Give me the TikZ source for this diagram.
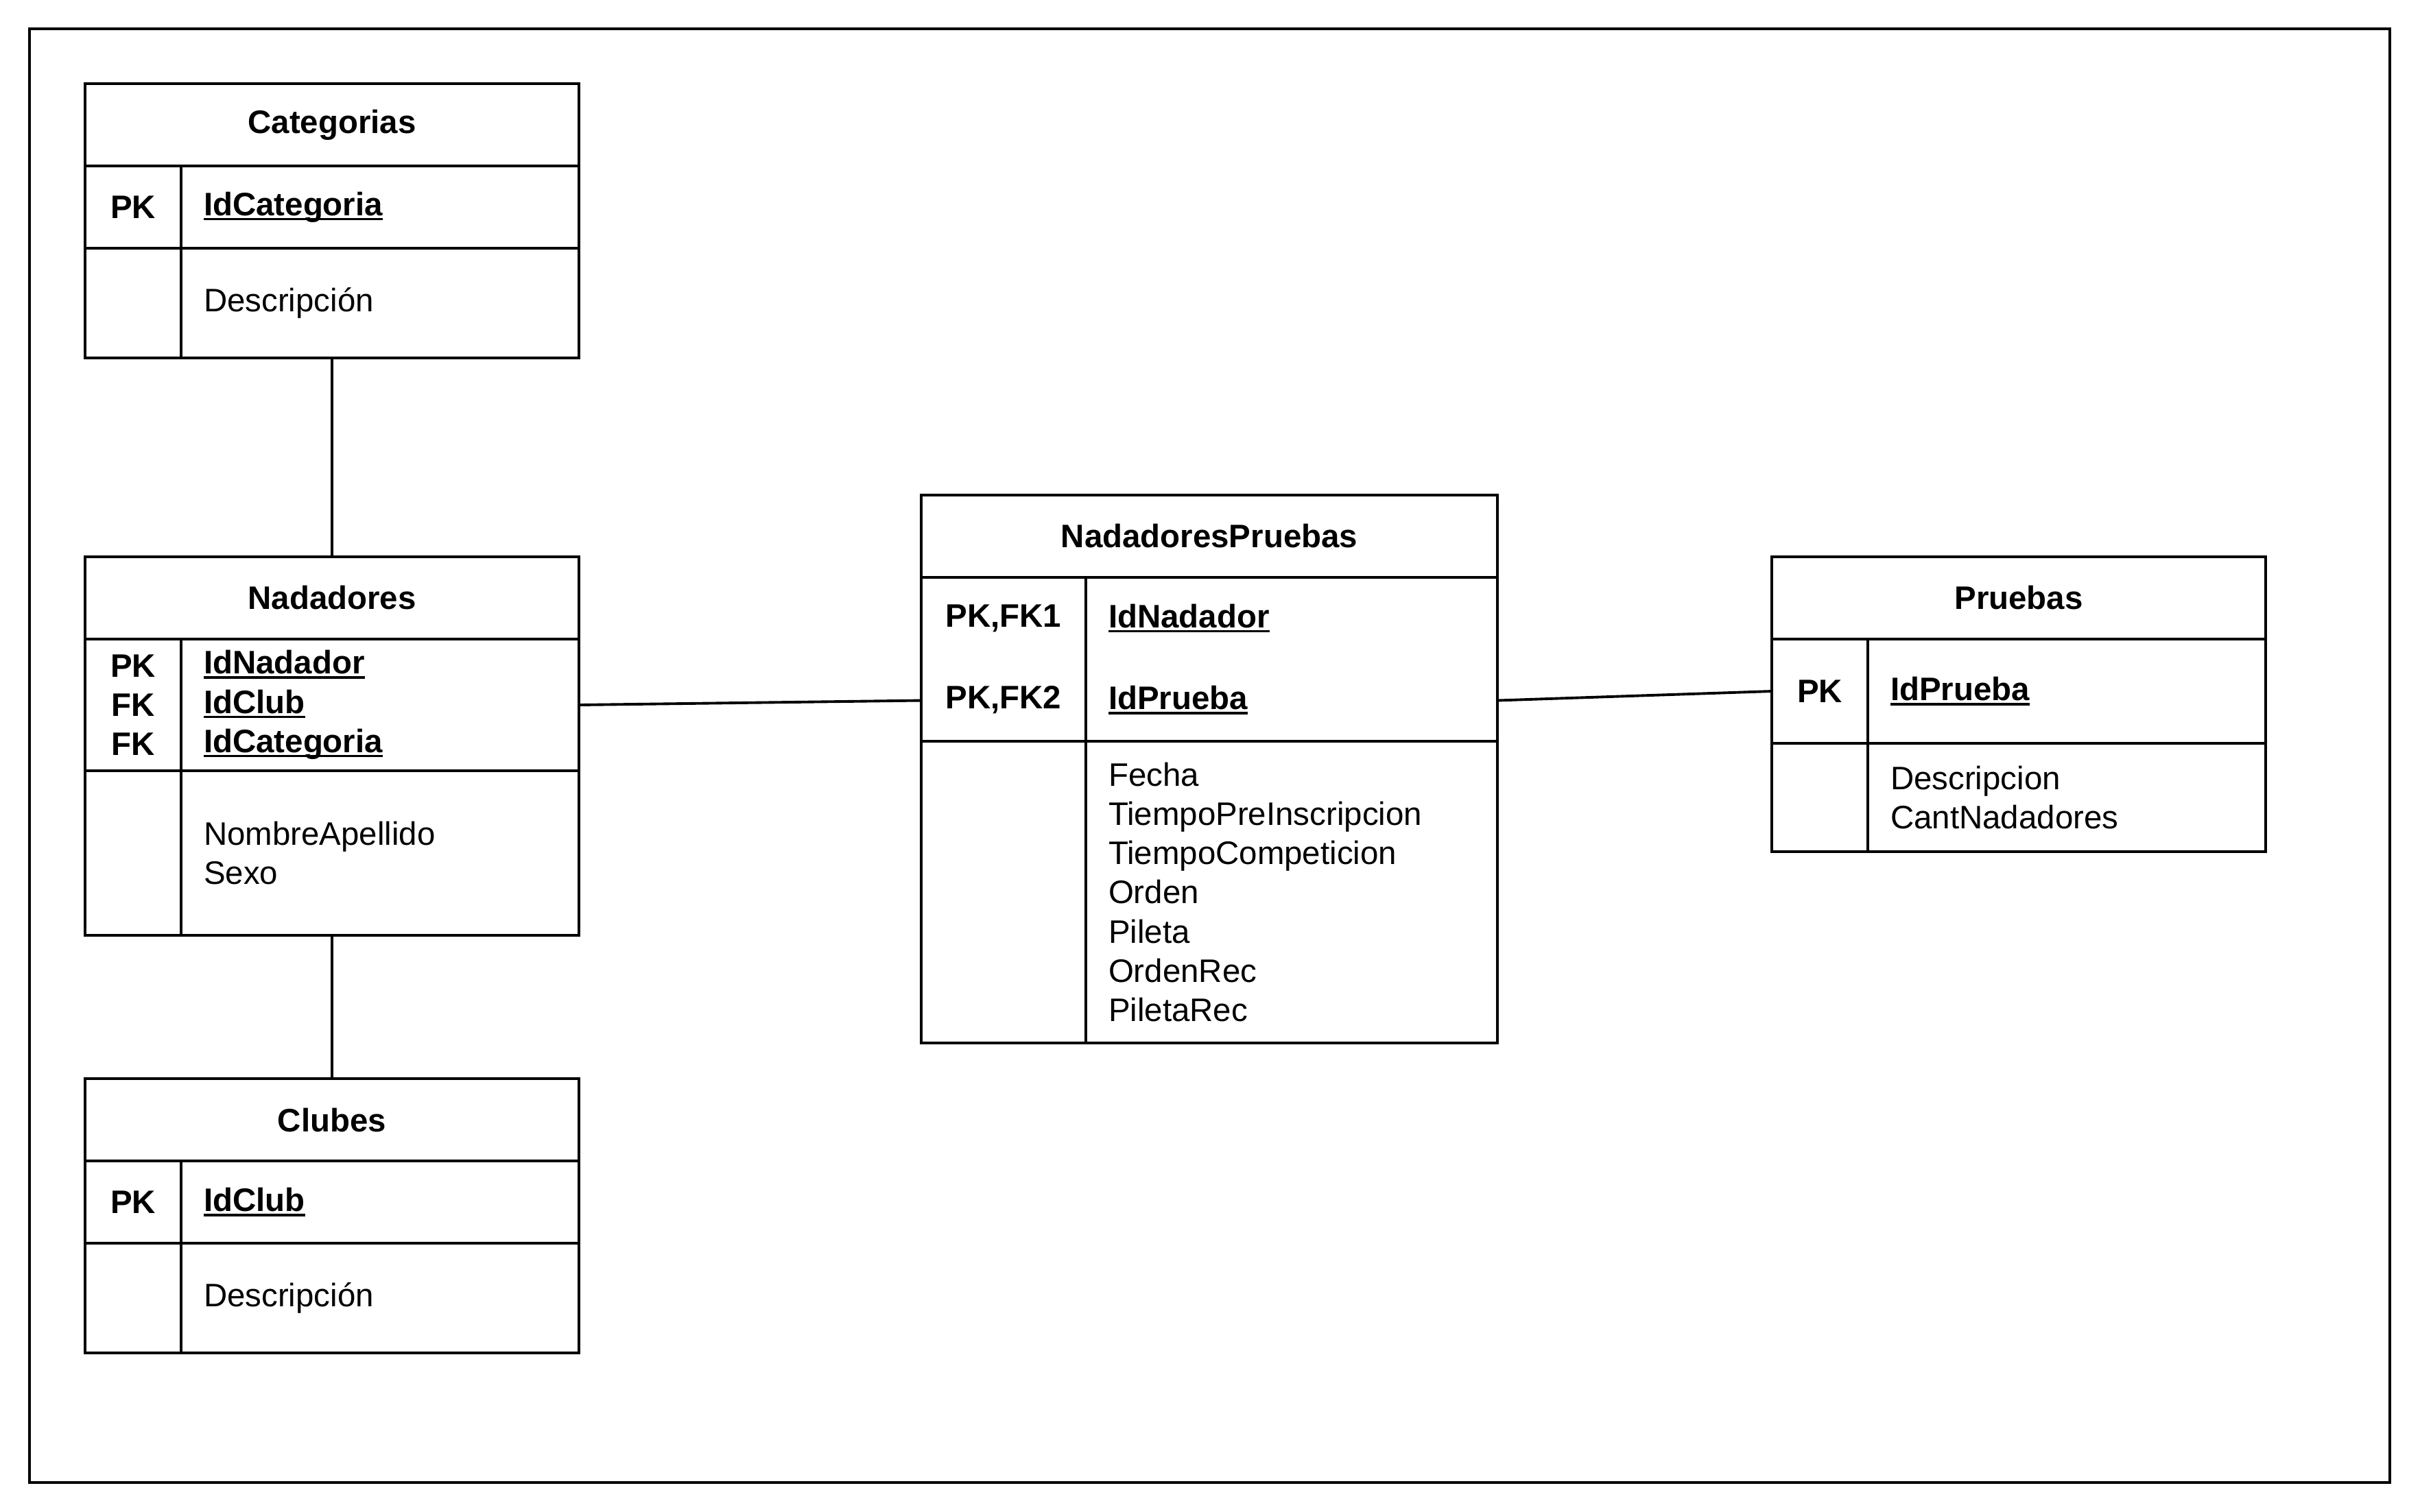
\documentclass[tikz,border=0pt]{standalone}
\usepackage{fontspec}
\setmainfont{Liberation Sans}
\usetikzlibrary{positioning}
\newcommand{\erfont}{\fontsize{13.5}{16.3}\selectfont}
\newsavebox\keybox
\newcommand{\keyattr}[1]{\leavevmode\sbox\keybox{\bfseries#1}\rlap{\rule[-0.14em]{\wd\keybox}{0.07em}}\usebox\keybox}

\begin{document}
\begin{tikzpicture}[
    line width=1.1pt,
    font=\erfont,
    every node/.style={outer sep=0pt},
    hdr/.style={draw, minimum height=1.2cm, font=\erfont\bfseries},
    keycol/.style={draw, align=center, inner sep=0pt, minimum width=#1, font=\erfont\bfseries},
    fldcol/.style={draw, align=left, inner xsep=0.33cm, inner ysep=0pt, text width=#1},
    link/.style={draw, line width=1.1pt}
  ]
    \useasboundingbox (0,0) rectangle (35.28,-22.04);
    \draw (0.43,-0.42) rectangle (34.84,-21.62);

    \node[hdr, minimum width=7.2cm] (cat) at (4.84,-1.82) {Categorias};
    \node[keycol=1.4cm, minimum height=1.2cm, below right=0pt of cat.south west] (catk) {PK};
    \node[fldcol=5.14cm, minimum height=1.2cm, right=0pt of catk] (catkf) {\keyattr{IdCategoria}};
    \node[keycol=1.4cm, minimum height=1.6cm, below=0pt of catk] (cata) {};
    \node[fldcol=5.14cm, minimum height=1.6cm, below=0pt of catkf] (catf) {Descripción};

    \node[hdr, minimum width=7.2cm] (nad) at (4.84,-8.72) {Nadadores};
    \node[keycol=1.4cm, minimum height=1.92cm, below right=0pt of nad.south west] (nadk) {PK\\FK\\FK};
    \node[fldcol=5.14cm, minimum height=1.92cm, right=0pt of nadk] (nadkf) {\keyattr{IdNadador}\\\keyattr{IdClub}\\\keyattr{IdCategoria}};
    \node[keycol=1.4cm, minimum height=2.4cm, below=0pt of nadk] (nada) {};
    \node[fldcol=5.14cm, minimum height=2.4cm, below=0pt of nadkf] (nadf) {NombreApellido\\Sexo};

    \node[hdr, minimum width=7.2cm] (clu) at (4.84,-16.33) {Clubes};
    \node[keycol=1.4cm, minimum height=1.2cm, below right=0pt of clu.south west] (cluk) {PK};
    \node[fldcol=5.14cm, minimum height=1.2cm, right=0pt of cluk] (clukf) {\keyattr{IdClub}};
    \node[keycol=1.4cm, minimum height=1.6cm, below=0pt of cluk] (clua) {};
    \node[fldcol=5.14cm, minimum height=1.6cm, below=0pt of clukf] (cluf) {Descripción};

    \node[hdr, minimum width=8.4cm] (np) at (17.63,-7.82) {NadadoresPruebas};
    \node[keycol=2.4cm, minimum height=2.39cm, below right=0pt of np.south west] (npk) {PK,FK1\\[17.6pt]PK,FK2};
    \node[fldcol=5.34cm, minimum height=2.39cm, right=0pt of npk] (npkf) {\keyattr{IdNadador}\\[17.6pt]\keyattr{IdPrueba}};
    \node[keycol=2.4cm, minimum height=4.4cm, below=0pt of npk] (npa) {};
    \node[fldcol=5.34cm, minimum height=4.4cm, below=0pt of npkf] (npf) {Fecha\\TiempoPreInscripcion\\TiempoCompeticion\\Orden\\Pileta\\OrdenRec\\PiletaRec};

    \node[hdr, minimum width=7.2cm] (pru) at (29.43,-8.72) {Pruebas};
    \node[keycol=1.4cm, minimum height=1.52cm, below right=0pt of pru.south west] (prk) {PK};
    \node[fldcol=5.14cm, minimum height=1.52cm, right=0pt of prk] (prkf) {\keyattr{IdPrueba}};
    \node[keycol=1.4cm, minimum height=1.58cm, below=0pt of prk] (pra) {};
    \node[fldcol=5.14cm, minimum height=1.58cm, below=0pt of prkf] (prf) {Descripcion\\CantNadadores};

    \draw[link] (cat |- catf.south) -- (nad.north);
    \draw[link] (nad |- nadf.south) -- (clu.north);
    \draw[link] (nadkf.east) -- ([yshift=-0.6cm]npk.west);
    \draw[link] ([yshift=-0.6cm]npkf.east) -- (prk.west);
\end{tikzpicture}
\end{document}
